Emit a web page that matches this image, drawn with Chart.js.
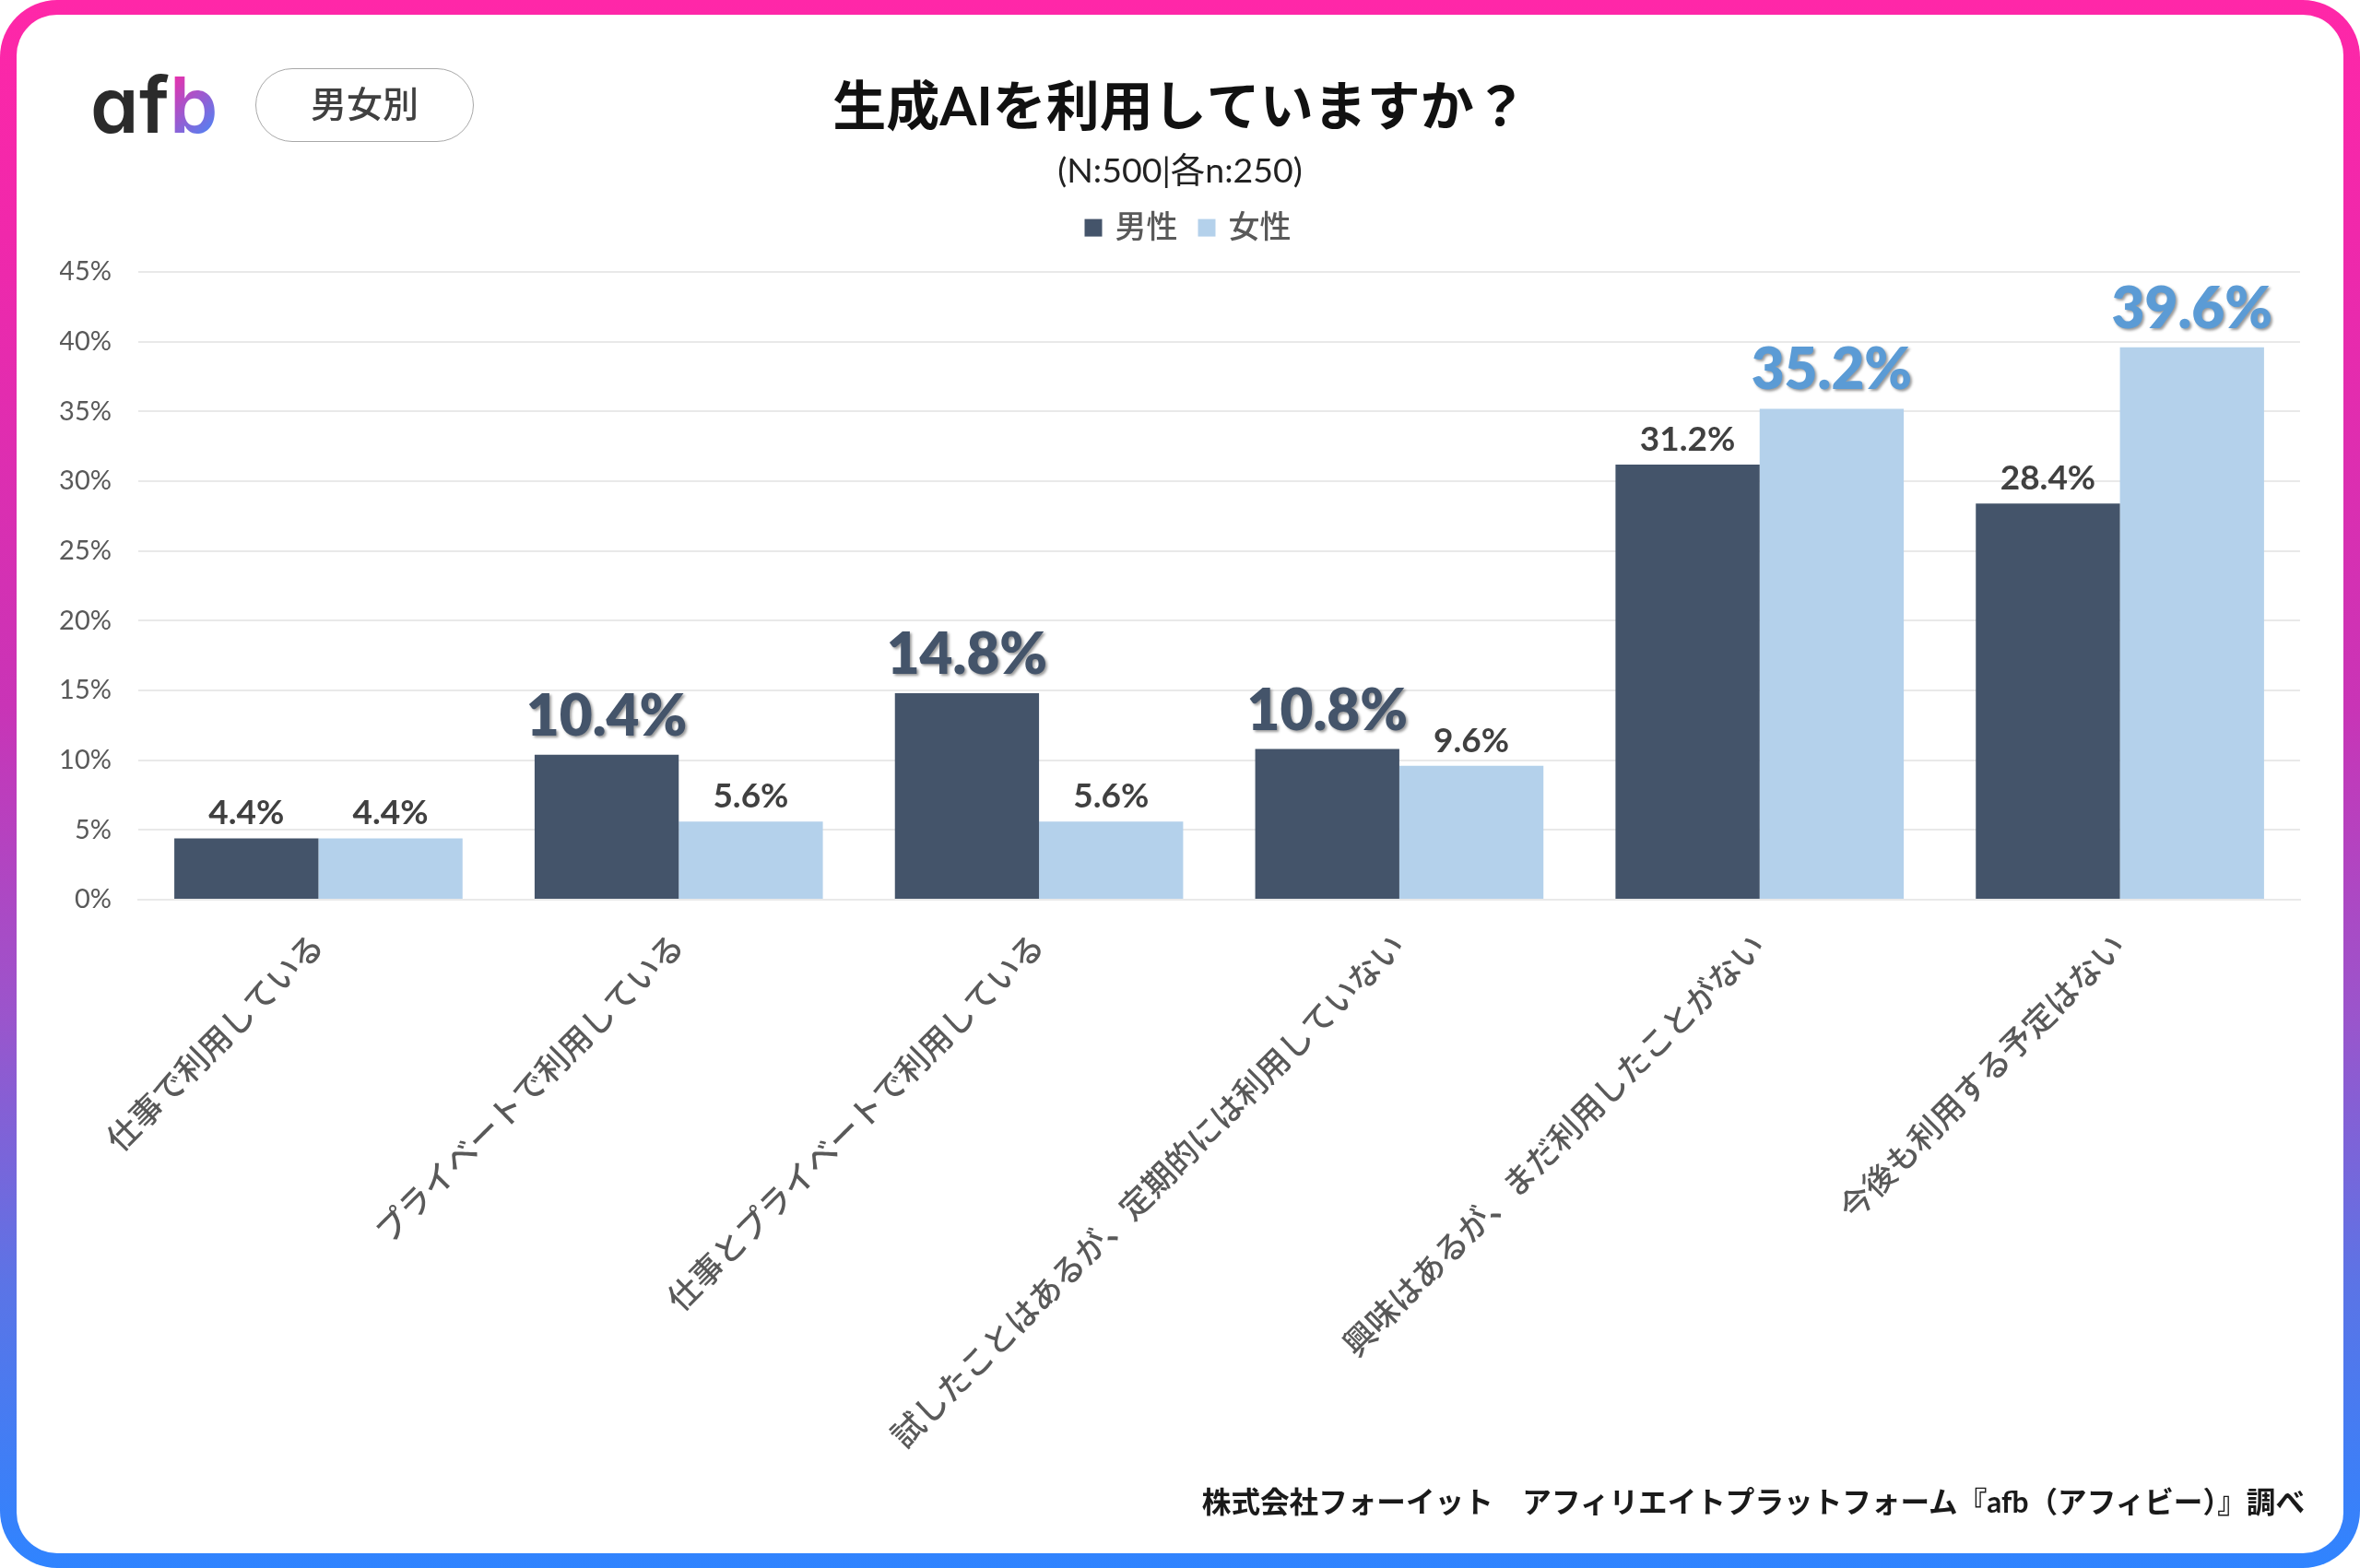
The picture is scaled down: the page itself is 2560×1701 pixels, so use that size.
<!DOCTYPE html>
<html lang="ja">
<head>
<meta charset="utf-8">
<title>生成AIを利用していますか？</title>
<script src="https://cdn.jsdelivr.net/npm/chart.js@4"></script>
<style>
  html, body { margin: 0; padding: 0; background: #fff; }
  #page { position: relative; width: 2560px; height: 1701px; overflow: hidden; background: #fff;
          font-family: "Noto Sans CJK JP", sans-serif; }
  #frame { position: absolute; inset: 0; border-radius: 62px;
           background: linear-gradient(180deg, #ff27a8 0%, #f028ab 15%, #c934b6 45%, #9a55cc 65%, #5b74e6 82%, #2f84ff 100%); }
  #inner { position: absolute; left: 18px; top: 16px; width: 2524px; height: 1669px; background: #fff; border-radius: 44px; }
  #chart { position: absolute; left: 0; top: 0; }
  #logo { position: absolute; left: 98px; top: 72px; font: 600 84px/84px Inter, sans-serif; letter-spacing: 0.5px;
          color: #2b2b2b; font-feature-settings: "cv11" 1; }
  #logo span { background: linear-gradient(135deg, #f52aa6 10%, #3f8cfb 90%); -webkit-background-clip: text; background-clip: text; color: transparent; }
  #pill { position: absolute; left: 277px; top: 74px; width: 235px; height: 78px; border: 1.5px solid #a8a8a8; border-radius: 40px;
          text-align: center; font: 500 39px/70px "Noto Sans CJK JP", sans-serif; color: #404040; }
  #source { position: absolute; right: 60px; top: 1606px; font: 700 31.6px/46px Lato, "Noto Sans CJK JP", sans-serif; color: #1a1a1a; white-space: nowrap; }
</style>
</head>
<body>
<div id="page">
  <div id="frame"></div>
  <div id="inner"></div>
  <canvas id="chart" width="2560" height="1701"></canvas>
  <div id="logo">af<span>b</span></div>
  <div id="pill">男女別</div>
  <div id="source">株式会社フォーイット　アフィリエイトプラットフォーム『afb（アフィビー）』調べ</div>
</div>
<script>
const categories = [
  "仕事で利用している",
  "プライベートで利用している",
  "仕事とプライベートで利用している",
  "試したことはあるが、定期的には利用していない",
  "興味はあるが、まだ利用したことがない",
  "今後も利用する予定はない"
];
const maleValues = [4.4, 10.4, 14.8, 10.8, 31.2, 28.4];
const femaleValues = [4.4, 5.6, 5.6, 9.6, 35.2, 39.6];
const seriesNames = ["男性", "女性"];

const MALE = "#44546A";
const FEMALE = "#B4D1EB";
const FEMALE_TEXT = "#5B9BD5";
const GRID = "#E9E9E9";
const AXIS_TEXT = "#595959";
const LATIN = 'Lato, "Noto Sans CJK JP", sans-serif';

// value labels over the bars, the larger one of each pair is drawn big with a shadow
const valueLabels = {
  id: "valueLabels",
  afterDatasetsDraw(chart) {
    const ctx = chart.ctx;
    ctx.save();
    ctx.textAlign = "center";
    ctx.textBaseline = "alphabetic";
    chart.data.datasets.forEach((ds, i) => {
      const other = chart.data.datasets[1 - i].data;
      chart.getDatasetMeta(i).data.forEach((bar, j) => {
        const big = ds.data[j] > other[j];
        ctx.font = (big ? "800 62px " : "700 37px ") + LATIN;
        ctx.fillStyle = big ? (i === 0 ? MALE : FEMALE_TEXT) : "#404040";
        ctx.shadowColor = big ? "rgba(0,0,0,0.4)" : "transparent";
        ctx.shadowOffsetX = big ? 2 : 0;
        ctx.shadowOffsetY = big ? 2 : 0;
        ctx.shadowBlur = big ? 3 : 0;
        ctx.fillText(ds.data[j].toFixed(1) + "%", bar.x, bar.y - (big ? 21 : 15));
      });
    });
    ctx.restore();
  }
};

// extra room between legend and plot, legend sits a bit right of centre
const legendGap = {
  id: "legendGap",
  beforeInit(chart) {
    const fit = chart.legend.fit;
    chart.legend.fit = function () {
      fit.call(chart.legend);
      this.height += 21;
    };
  },
  afterLayout(chart) {
    chart.legend.left += 20;
  }
};

new Chart("chart", {
  type: "bar",
  data: {
    labels: categories,
    datasets: [
      { label: seriesNames[0], data: maleValues, backgroundColor: MALE },
      { label: seriesNames[1], data: femaleValues, backgroundColor: FEMALE }
    ]
  },
  plugins: [valueLabels, legendGap],
  options: {
    responsive: false,
    animation: false,
    devicePixelRatio: 1,
    layout: { autoPadding: false, padding: { left: 65, right: 65, top: 82, bottom: 0 } },
    datasets: { bar: { categoryPercentage: 0.8, barPercentage: 1, borderWidth: 0 } },
    plugins: {
      tooltip: { enabled: false },
      title: {
        display: true,
        text: "生成AIを利用していますか？",
        color: "#111",
        font: { family: LATIN, size: 58, weight: "700" },
        padding: { top: 0, bottom: 16 }
      },
      subtitle: {
        display: true,
        text: "(N:500|各n:250)",
        color: "#222",
        font: { family: LATIN, size: 37.5, weight: "400", lineHeight: 1 },
        padding: 0
      },
      legend: {
        position: "top",
        labels: {
          usePointStyle: true,
          pointStyle: "rect",
          boxWidth: 13,
          boxHeight: 19,
          padding: 25,
          color: AXIS_TEXT,
          font: { family: LATIN, size: 34, weight: "500" }
        }
      }
    },
    scales: {
      x: {
        grid: { display: false },
        border: { color: GRID, width: 2 },
        afterFit(scale) { scale.height = 725; },
        ticks: {
          autoSkip: false,
          minRotation: 45,
          maxRotation: 45,
          padding: 22,
          color: AXIS_TEXT,
          font: { family: LATIN, size: 35, weight: "500" }
        }
      },
      y: {
        min: 0,
        max: 45,
        afterFit(scale) { scale.width = 85; },
        grid: { color: GRID, lineWidth: 2, drawTicks: false },
        border: { display: false },
        ticks: {
          stepSize: 5,
          padding: 29,
          color: AXIS_TEXT,
          font: { family: LATIN, size: 29 },
          callback: v => v + "%"
        }
      }
    }
  }
});
</script>
</body>
</html>
